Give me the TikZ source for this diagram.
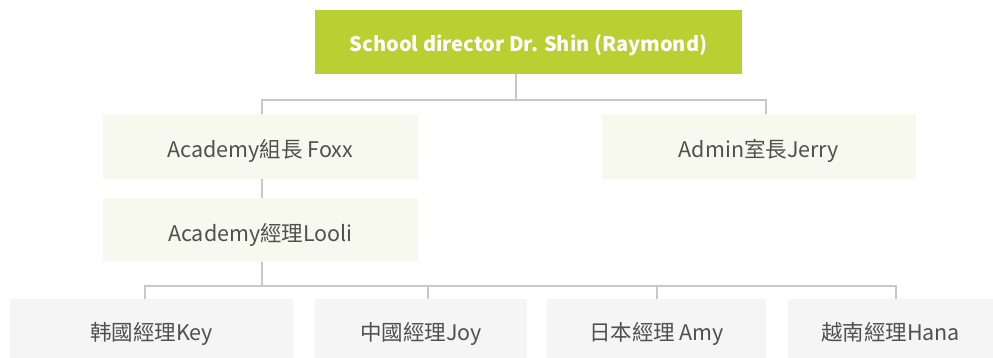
\documentclass[tikz,border=0pt]{standalone}
\usepackage{fontspec}
\setmainfont{Noto Sans CJK TC}
\definecolor{topgreen}{HTML}{B8D032}
\definecolor{midfill}{HTML}{F7F8EE}
\definecolor{botfill}{HTML}{F5F5F5}
\definecolor{linegray}{HTML}{C8C8C8}
\definecolor{txtgray}{HTML}{505050}
\begin{document}
\begin{tikzpicture}[x=1pt,y=-1pt,
  box/.style={inner sep=0pt, outer sep=0pt, anchor=center, font=\fontsize{21.5}{24}\selectfont, text=txtgray, text height=26pt, text depth=2.6pt},
  topbox/.style={box, fill=topgreen, text=white, font=\fontsize{20}{24}\selectfont\bfseries, text height=20pt, text depth=2.2pt},
  midbox/.style={box, fill=midfill},
  botbox/.style={box, fill=botfill},
  conn/.style={draw=linegray, line width=1.2pt}]
\useasboundingbox (0,0) rectangle (993,358);
\fill[white] (0,0) rectangle (993,358);
% boxes
\node[topbox, minimum width=427pt, minimum height=64.5pt] (top) at (528.5,42.25) {School director Dr. Shin (Raymond)};
\node[midbox, minimum width=315pt, minimum height=65pt] (foxx) at (260.5,146.25) {Academy組長 Foxx};
\node[midbox, minimum width=314pt, minimum height=65pt] (jerry) at (759,146.25) {Admin室長Jerry};
\node[midbox, minimum width=315pt, minimum height=64pt] (looli) at (260.5,230) {Academy經理Looli};
\node[botbox, minimum width=283pt, minimum height=59pt] (key) at (151.5,328.5) {韩國經理Key};
\node[botbox, minimum width=212pt, minimum height=59pt] (joy) at (421,328.5) {中國經理Joy};
\node[botbox, minimum width=219pt, minimum height=59pt] (amy) at (656.5,328.5) {日本經理 Amy};
\node[botbox, minimum width=205pt, minimum height=59pt] (hana) at (890.5,328.5) {越南經理Hana};
% bus coordinates
\coordinate (b1) at (516,100);
\coordinate (b1l) at (262,100);
\coordinate (b1r) at (766,100);
\coordinate (c1) at (262,0);
\coordinate (b2) at (262,286);
\coordinate (k1) at (145,286);
\coordinate (j1) at (428,286);
\coordinate (a1) at (657,286);
\coordinate (h1) at (896,286);
% connectors
\draw[conn] (top.south -| b1) -- (b1);
\draw[conn] (foxx.north -| b1l) -- (b1l) -- (b1r) -- (jerry.north -| b1r);
\draw[conn] (foxx.south -| c1) -- (looli.north -| c1);
\draw[conn] (looli.south -| c1) -- (b2);
\draw[conn] (key.north -| k1) -- (k1) -- (h1) -- (hana.north -| h1);
\draw[conn] (j1) -- (joy.north -| j1);
\draw[conn] (a1) -- (amy.north -| a1);
\end{tikzpicture}
\end{document}
